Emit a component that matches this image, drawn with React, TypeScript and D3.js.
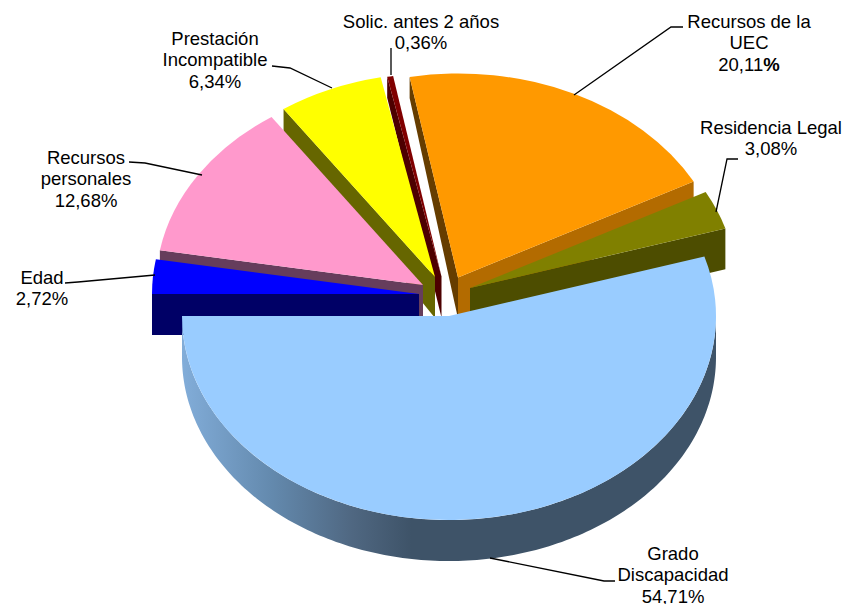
import React from "react";
import * as d3 from "d3";

// ---- data (clockwise from due west)
const categories = ["Edad", "Recursos personales", "Prestación Incompatible", "Solic. antes 2 años", "Recursos de la UEC", "Residencia Legal", "Grado Discapacidad"];
const values = [2.72, 12.68, 6.34, 0.36, 20.11, 3.08, 54.71];
const valueLabels = ["2,72%", "12,68%", "6,34%", "0,36%", "20,11", "3,08%", "54,71%"];

// ---- layout
const W = 842, H = 604;
const RX = 267, RY = 204, DEPTH = 41;
const FONT = 18.5, LINE = 21.3;
const apexes: [number, number][] = [[419, 294], [423, 285], [435, 277], [441.5, 276.5], [458, 277.5], [470, 288], [449, 316]];
const topColors = ["#0000ff", "#ff99cc", "#ffff00", "#800000", "#ff9900", "#808000", "#99ccff"];
const startWallColors = ["#000066", "#663d5c", "#666600", "#4d0000", "#663d00", "", ""];
const endWallColors = ["", "", "", "", "#b36b00", "#4d4d00", ""];
const drawOrder = [4, 3, 2, 1, 0, 5, 6];
const labelLines = [["Edad"], ["Recursos", "personales"], ["Prestación", "Incompatible"], ["Solic. antes 2 años"], ["Recursos de la", "UEC"], ["Residencia Legal"], ["Grado", "Discapacidad"]];
const labelCenters: [number, number][] = [[42, 288], [86, 179], [215, 60], [421, 32], [749, 43], [771, 138], [673, 575]];
const leaders: [number, number][][] = [
  [[65, 283], [78, 282], [155, 275]],
  [[129, 162], [145, 163], [202, 175]],
  [[272, 66], [290, 68], [332, 88]],
  [[391, 48], [391, 75]],
  [[683, 27], [671, 27], [574, 95]],
  [[738, 159], [727, 159], [716, 212]],
  [[615, 581], [604, 581], [490, 558]],
];

const depthAt = d3.scaleLinear().domain([100, 230]).range([21, DEPTH]).clamp(true);
const pieGen = d3.pie<number>().sort(null).startAngle(-Math.PI / 2).endAngle((3 * Math.PI) / 2);
const arcGen = d3.arc<d3.PieArcDatum<number>>().innerRadius(0).outerRadius(RX);
const lineGen = d3.line();

function radialWall(ax: number, ay: number, ang: number) {
  const ox = ax + RX * Math.sin(ang);
  const oy = ay - RY * Math.cos(ang);
  return lineGen([[ax, ay], [ox, oy], [ox, oy + depthAt(oy)], [ax, ay + DEPTH]]) + "Z";
}

function App() {
  const arcs = pieGen(values);
  const big = arcs.length - 1;
  return (
    <svg width={W} height={H} style={{ position: "absolute", left: 0, top: 0, background: "#fff" }} fontFamily="'Liberation Sans', Arial, sans-serif" fontSize={FONT} fill="#000">
      <defs>
        <linearGradient id="gradoWall" gradientUnits="userSpaceOnUse" x1={182} x2={716} y1={0} y2={0}>
          <stop offset="0" stopColor="#82add9" />
          <stop offset="0.17" stopColor="#6389ad" />
          <stop offset="0.32" stopColor="#4f6781" />
          <stop offset="0.43" stopColor="#3e5368" />
          <stop offset="1" stopColor="#3e5368" />
        </linearGradient>
      </defs>
      {drawOrder.map((i) => {
        const a = arcs[i];
        const [ax, ay] = apexes[i];
        const walls: React.ReactNode[] = [];
        if (startWallColors[i]) walls.push(<path key="s" d={radialWall(ax, ay, a.startAngle)} fill={startWallColors[i]} />);
        if (endWallColors[i]) walls.push(<path key="e" d={radialWall(ax, ay, a.endAngle)} fill={endWallColors[i]} />);
        if (i === big) {
          const th = d3.range(0, 181).map((k) => Math.PI / 2 + (k * Math.PI) / 180);
          const up = th.map((t) => [ax + RX * Math.sin(t), ay - RY * Math.cos(t)] as [number, number]);
          const down = up.slice().reverse().map(([x, y]) => [x, y + DEPTH] as [number, number]);
          walls.push(<path key="c" d={lineGen(up.concat(down)) + "Z"} fill="url(#gradoWall)" />);
        }
        return (
          <g key={categories[i]}>
            {walls}
            <path d={arcGen(a) as string} transform={`translate(${ax},${ay}) scale(1,${RY / RX})`} fill={topColors[i]} />
          </g>
        );
      })}
      {leaders.map((pts, i) => (
        <path key={i} d={lineGen(pts) as string} fill="none" stroke="#000" strokeWidth={1.3} />
      ))}
      {categories.map((c, i) => {
        const lines = labelLines[i];
        const n = lines.length + 1;
        const [cx, cy] = labelCenters[i];
        const y0 = cy - ((n - 1) * LINE) / 2 + FONT * 0.35;
        return (
          <text key={c} textAnchor="middle" x={cx} y={y0}>
            {lines.map((l, k) => (
              <tspan key={k} x={cx} y={y0 + k * LINE}>{l}</tspan>
            ))}
            <tspan x={cx} y={y0 + lines.length * LINE}>
              {valueLabels[i]}
              {c === "Recursos de la UEC" ? <tspan fontWeight="bold">%</tspan> : null}
            </tspan>
          </text>
        );
      })}
    </svg>
  );
}

export default App;
